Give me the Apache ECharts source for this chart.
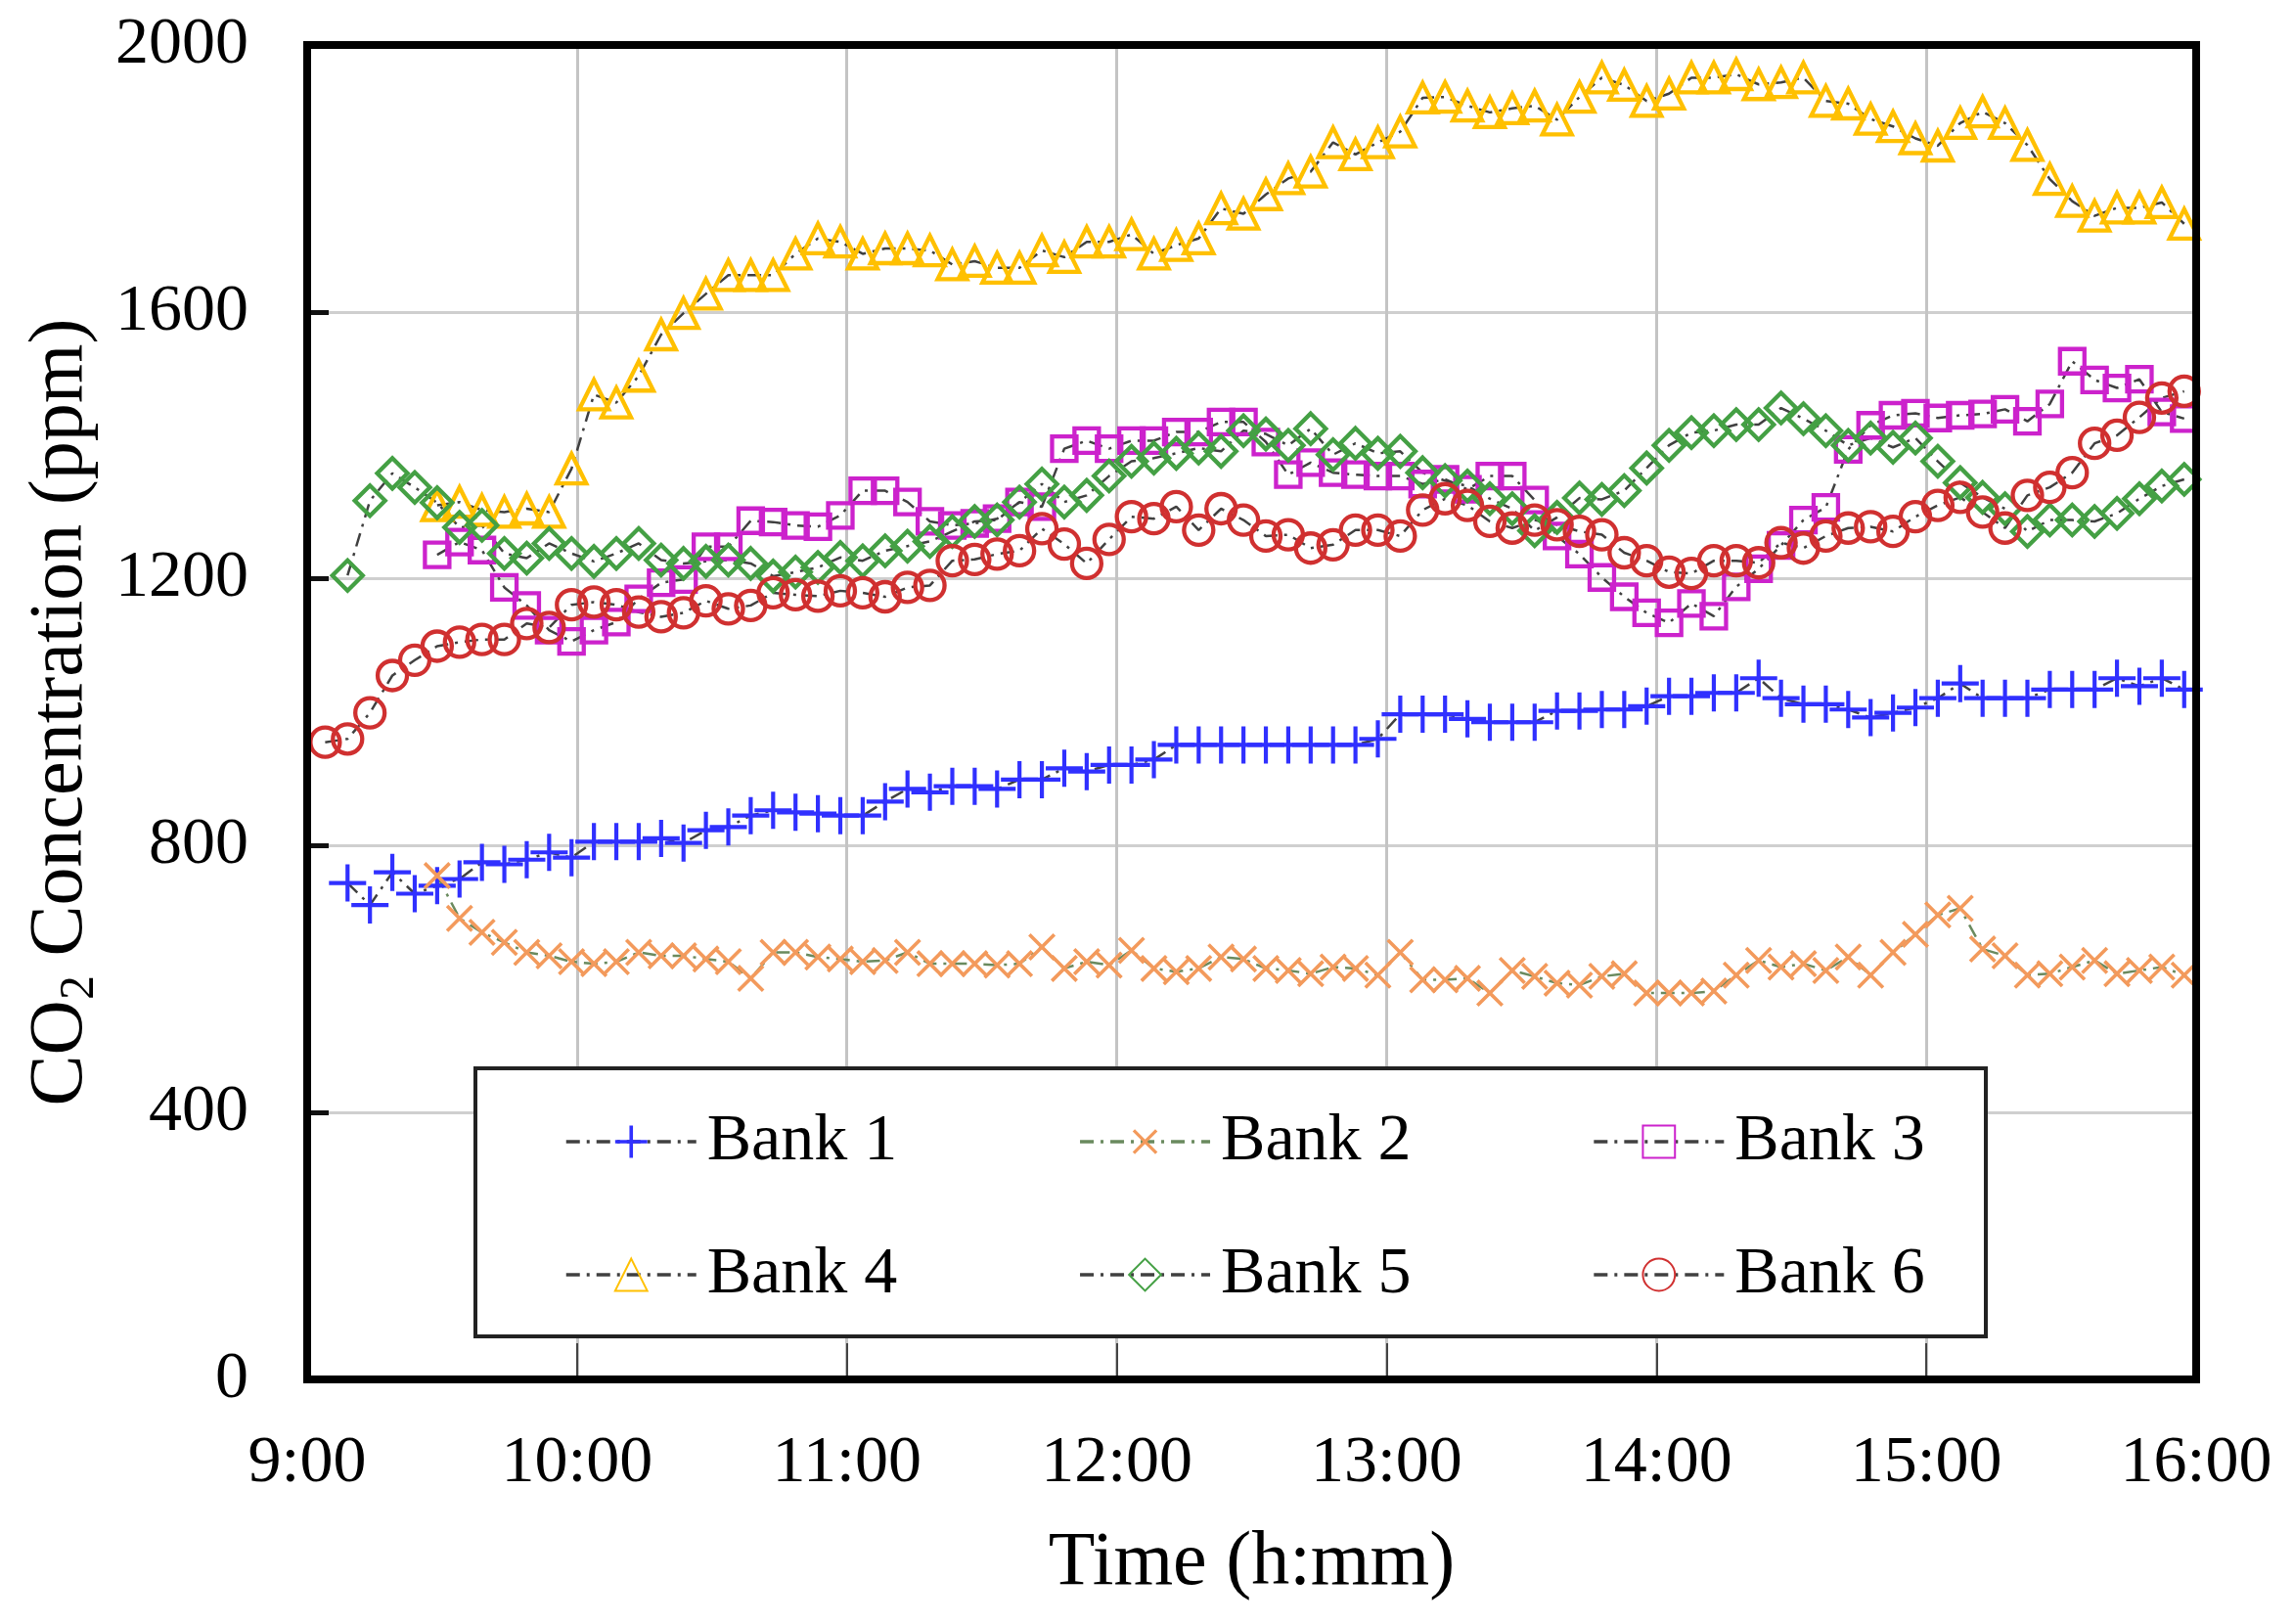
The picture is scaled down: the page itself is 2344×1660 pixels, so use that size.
<!DOCTYPE html>
<html><head><meta charset="utf-8">
<script src="https://cdn.jsdelivr.net/npm/echarts@6/dist/echarts.min.js"></script>
<style>html,body{margin:0;padding:0;background:#fff}#chart{width:2344px;height:1660px}</style>
</head><body><div id="chart"></div>
<script>
// ---- data (minutes after 9:00 for the time axis) ----
const START_MIN = 4;      // first logged sample, minutes after 9:00
const STEP_MIN = 4.98;    // logging interval, minutes
const xTickLabels = ['9:00','10:00','11:00','12:00','13:00','14:00','15:00','16:00'];
const seriesNames = ['Bank 1','Bank 2','Bank 3','Bank 4','Bank 5','Bank 6'];

const bank1 = [null,744,711,760,728,740,750,775,772,779,790,782,
 806,806,806,811,804,823,828,845,853,850,848,845,
 845,866,885,880,889,889,885,899,899,916,911,921,
 921,929,951,951,951,951,951,951,951,951,951,960,
 997,997,997,990,985,985,985,1002,1002,1004,1004,1009,
 1024,1024,1029,1029,1051,1021,1012,1012,1004,992,999,1007,
 1021,1043,1021,1021,1021,1034,1034,1034,1051,1039,1051,1034];
const bank2 = [null,null,null,null,null,755,691,670,655,640,635,626,
 623,626,640,635,635,630,626,601,640,640,633,630,
 626,628,640,623,623,623,621,623,648,616,626,621,
 643,616,611,616,633,630,616,613,608,618,616,606,
 640,599,599,601,579,613,604,594,591,604,608,579,
 579,579,582,606,628,618,623,613,633,606,640,667,
 696,706,645,635,606,608,618,628,608,613,618,606];
const bank3 = [null,null,null,null,null,1236,1255,1243,1187,1160,1123,1106,
 1123,1135,1170,1194,1199,1248,1248,1287,1285,1280,1278,1295,
 1332,1332,1315,1286,1280,1283,1290,1315,1308,1395,1407,1395,
 1407,1407,1420,1420,1435,1435,1405,1356,1374,1359,1356,1354,
 1354,1342,1349,1334,1354,1354,1318,1264,1237,1202,1173,1149,
 1134,1163,1144,1188,1215,1250,1288,1307,1394,1430,1445,1448,
 1441,1445,1447,1454,1436,1462,1526,1498,1486,1499,1450,1440];
const bank4 = [null,null,null,null,null,1310,1315,1303,1300,1305,1300,1365,
 1476,1464,1504,1566,1598,1627,1655,1655,1655,1687,1710,1705,
 1687,1695,1695,1692,1671,1676,1666,1666,1692,1682,1705,1705,
 1716,1687,1700,1710,1755,1747,1776,1800,1810,1854,1836,1854,
 1870,1921,1922,1909,1899,1905,1909,1888,1922,1951,1940,1916,
 1927,1951,1951,1956,1941,1944,1951,1916,1912,1889,1878,1860,
 1849,1883,1900,1883,1850,1799,1766,1744,1756,1756,1764,1732];
const bank5 = [null,1205,1317,1358,1337,1314,1277,1280,1238,1231,1253,1238,
 1226,1238,1253,1228,1223,1226,1228,1223,1204,1210,1217,1232,
 1227,1242,1249,1256,1271,1286,1288,1315,1342,1315,1325,1354,
 1376,1381,1388,1396,1391,1422,1417,1400,1425,1386,1403,1388,
 1391,1359,1347,1339,1320,1305,1272,1292,1321,1319,1332,1366,
 1400,1419,1422,1431,1431,1456,1440,1422,1400,1411,1397,1411,
 1376,1344,1322,1305,1271,1288,1288,1286,1298,1320,1339,1349];
const bank6 = [955,960,999,1055,1078,1099,1105,1109,1109,1133,1127,1161,
 1165,1161,1150,1143,1149,1167,1155,1160,1179,1176,1174,1182,
 1179,1173,1187,1190,1227,1229,1237,1242,1275,1252,1223,1259,
 1293,1290,1308,1273,1305,1288,1264,1266,1246,1251,1273,1273,
 1264,1303,1320,1310,1286,1276,1288,1281,1271,1266,1239,1227,
 1210,1208,1227,1227,1224,1254,1246,1264,1276,1278,1271,1293,
 1310,1322,1300,1276,1325,1337,1359,1403,1415,1442,1471,1481];

const allBanks = [bank1, bank2, bank3, bank4, bank5, bank6];
const sampleTimes = bank6.map((_, k) => START_MIN + STEP_MIN * k);

// ---- styling ----
const FONT = 'Liberation Serif';
const PLUS = 'path://M0,4.45H10V5.55H0Z M4.45,0H5.55V10H4.45Z';
const CROSS = 'path://M0,4.5H10V5.5H0Z M4.5,0H5.5V10H4.5Z';
const styles = [
  {symbol: PLUS, size: 38, rotate: 0, color: '#3030ff', filled: true, line: '#404040'},
  {symbol: CROSS, size: 36, rotate: 45, color: '#f39a5c', filled: true, line: '#6a8a5e'},
  {symbol: 'rect', size: 25, rotate: 0, color: '#cc22cc', filled: false, line: '#404040'},
  {symbol: 'triangle', size: 30, rotate: 0, color: '#ffc000', filled: false, line: '#404040'},
  {symbol: 'diamond', size: 31, rotate: 0, color: '#44a044', filled: false, line: '#404040'},
  {symbol: 'circle', size: 30, rotate: 0, color: '#d03030', filled: false, line: '#404040'}
];

const series = seriesNames.map((name, i) => {
  const st = styles[i];
  return {
    name: name,
    type: 'line',
    data: sampleTimes.map((t, k) => [t, allBanks[i][k]]),
    symbol: st.symbol,
    symbolSize: st.size,
    symbolRotate: st.rotate,
    showAllSymbol: true,
    connectNulls: false,
    itemStyle: st.filled
      ? {color: st.color, borderWidth: 0}
      : {color: 'rgba(255,255,255,0)', borderColor: st.color, borderWidth: 4.3},
    lineStyle: {color: st.line, width: 2.5, type: [14, 7, 3, 7]},
    emphasis: {disabled: true},
    z: 3
  };
});

const legendCommon = {
  left: 572, itemWidth: 133, itemHeight: 41, itemGap: 185,
  selectedMode: false,
  lineStyle: {width: 3.5},
  textStyle: {fontFamily: FONT, fontSize: 68, color: '#000', lineHeight: 70, padding: [0, 0, 0, 6]}
};

const chart = echarts.init(document.getElementById('chart'), null, {renderer: 'canvas', width: 2344, height: 1660});
chart.setOption({
  animation: false,
  backgroundColor: '#fff',
  grid: {left: 314, right: 99, top: 46, bottom: 250, show: false},
  xAxis: {
    type: 'value', min: 0, max: 420, interval: 60,
    name: 'Time (h:mm)', nameLocation: 'middle', nameGap: 150,
    nameTextStyle: {fontFamily: FONT, fontSize: 78, color: '#000'},
    axisLine: {show: false},
    axisTick: {show: true, inside: true, length: 37, lineStyle: {color: '#444', width: 2}},
    axisLabel: {margin: 52, fontFamily: FONT, fontSize: 68, color: '#000',
      formatter: v => xTickLabels[Math.round(v / 60)]},
    splitLine: {show: true, lineStyle: {color: '#c4c4c4', width: 3}}
  },
  yAxis: {
    type: 'value', min: 0, max: 2000, interval: 400,
    name: '{a|CO}{b|2}{a| Concentration (ppm)}', nameLocation: 'middle', nameGap: 202, nameRotate: 90,
    nameTextStyle: {fontFamily: FONT, fontSize: 78, color: '#000',
      rich: {a: {fontFamily: FONT, fontSize: 78, color: '#000', lineHeight: 90},
             b: {fontFamily: FONT, fontSize: 50, color: '#000', verticalAlign: 'bottom', lineHeight: 90}}},
    axisLine: {show: false},
    axisTick: {show: true, inside: true, length: 22, lineStyle: {color: '#111', width: 5}},
    axisLabel: {margin: 60, fontFamily: FONT, fontSize: 68, color: '#000',
      formatter: v => String(v)},
    splitLine: {show: true, lineStyle: {color: '#cfcfcf', width: 3}}
  },
  legend: [
    Object.assign({data: seriesNames.slice(0, 3), top: 1127}, legendCommon),
    Object.assign({data: seriesNames.slice(3, 6), top: 1263}, legendCommon)
  ],
  graphic: [{
    type: 'rect', z: 2, silent: true,
    shape: {x: 486, y: 1092, width: 1544, height: 274},
    style: {fill: '#fff', stroke: '#222', lineWidth: 4}
  }, {
    type: 'rect', z: 20, silent: true,
    shape: {x: 314, y: 46, width: 1931, height: 1364},
    style: {fill: 'none', stroke: '#000', lineWidth: 8}
  }],
  series: series
});
</script></body></html>
